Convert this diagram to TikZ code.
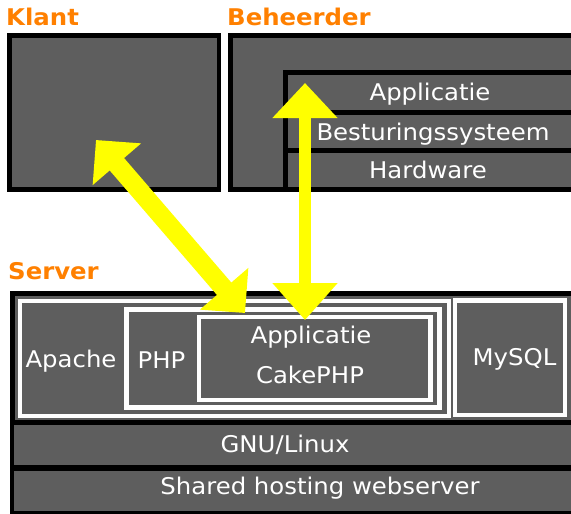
\documentclass[tikz,border=0pt]{standalone}
\usepackage{fontspec}
\setmainfont{DejaVu Sans}[FakeStretch=1.06]
\usetikzlibrary{arrows.meta}
\definecolor{boxgray}{RGB}{94,94,94}
\definecolor{koporanje}{RGB}{255,128,0}
\definecolor{pijlgeel}{RGB}{255,255,0}
\tikzset{
  kop/.style={anchor=base west, inner sep=0pt, text=koporanje, font=\fontsize{23}{28}\selectfont\bfseries},
  laag/.style={anchor=base, inner sep=0pt, text=white, font=\fontsize{23}{28}\selectfont},
  kader/.style={draw=black, line width=4.5pt, fill=boxgray},
  witkader/.style={draw=white, line width=#1},
}
\begin{document}
\begin{tikzpicture}[x=1pt, y=-1pt]
    \useasboundingbox (0,0) rectangle (571,514);
    \clip (0,0) rectangle (571,514);
    % klant
    \node[kop] (klant) at (6,25) {Klant};
    \draw[kader] (9.25,35.5) rectangle (218.75,189.5);
    % beheerder
    \node[kop] (beheerder) at (227,26) {Beheerder};
    \draw[kader] (230.25,35.5) rectangle (600,189.5);
    \fill[black] (283,70) rectangle (600,192);
    \fill[boxgray] (288,74.5) rectangle (600,110);
    \fill[boxgray] (288,115) rectangle (600,148);
    \fill[boxgray] (288,153) rectangle (600,187.25);
    \node[laag] (bapp) at (430,100) {Applicatie};
    \node[laag] (bos) at (433,140) {Besturingssysteem};
    \node[laag] (bhw) at (428,178) {Hardware};
    % server
    \node[kop] (server) at (8,279) {Server};
    \draw[kader] (12.25,293.5) rectangle (600,540);
    \fill[black] (14,420) rectangle (600,540);
    \fill[boxgray] (14,425) rectangle (600,465);
    \fill[boxgray] (14,470.5) rectangle (600,511);
    \draw[witkader=4pt] (19.5,300.5) rectangle (448.7,416);
    \draw[witkader=5pt] (126.5,309.5) rectangle (439.5,407.5);
    \draw[witkader=4.5pt] (199,317) rectangle (430.5,400);
    \draw[witkader=4.5pt] (455,300.5) rectangle (565,415);
    \node[laag] (apache) at (71,367) {Apache};
    \node[laag] (php) at (161.5,368) {PHP};
    \node[laag] (sapp) at (311,343) {Applicatie};
    \node[laag] (cake) at (310,383) {CakePHP};
    \node[laag] (mysql) at (514.5,365) {MySQL};
    \node[laag] (gnu) at (285,452) {GNU/Linux};
    \node[laag] (shared) at (320,494) {Shared hosting webserver};
    % pijlen
    \coordinate (klantpunt) at (96,140);
    \coordinate (apppunt) at (245,313);
    \coordinate (beheerpunt) at (305,83);
    \coordinate (serverpunt) at (305,320);
    \draw[pijlgeel, line width=19pt, {Triangle[width=62pt,length=32pt]}-{Triangle[width=62pt,length=32pt]}] (klantpunt) -- (apppunt);
    \draw[pijlgeel, line width=12pt, {Triangle[width=63pt,length=35pt]}-{Triangle[width=63pt,length=37pt]}] (beheerpunt) -- (serverpunt);
\end{tikzpicture}
\end{document}
